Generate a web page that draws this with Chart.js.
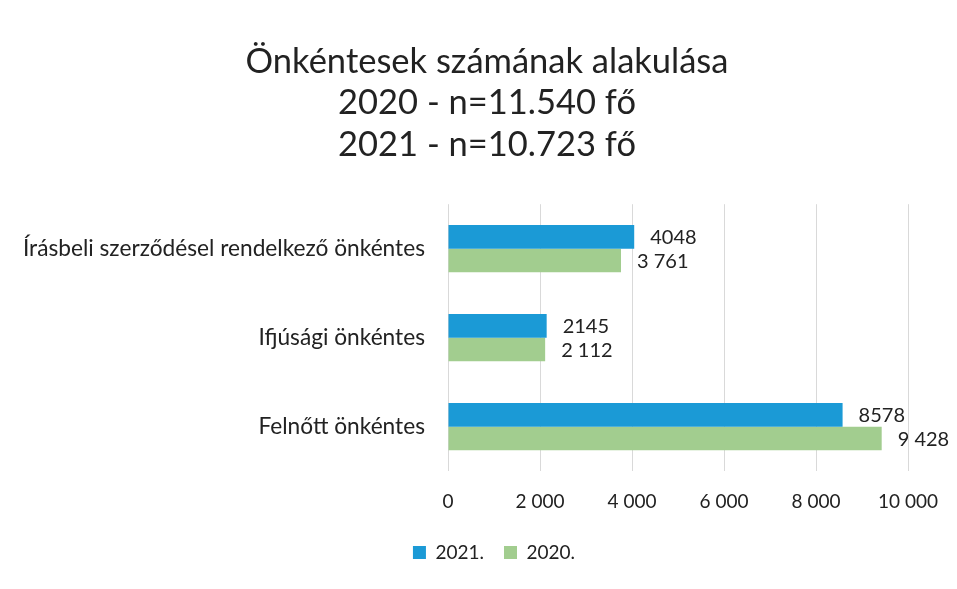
<!DOCTYPE html>
<html>
<head>
<meta charset="utf-8">
<script src="https://cdn.jsdelivr.net/npm/chart.js@4"></script>
<style>
  html, body { margin: 0; padding: 0; background: #fff; }
  #wrap { width: 957px; height: 589px; }
</style>
</head>
<body>
<div id="wrap"><canvas id="chart"></canvas></div>
<script>
const categories = ['Írásbeli szerződésel rendelkező önkéntes', 'Ifjúsági önkéntes', 'Felnőtt önkéntes'];
const values2021 = [4048, 2145, 8578];
const values2020 = [3761, 2112, 9428];
const titleLines = ['Önkéntesek számának alakulása', '2020 - n=11.540 fő', '2021 - n=10.723 fő'];

const spaced = v => String(v).replace(/\B(?=(\d{3})+(?!\d))/g, ' ');

// value labels at the end of each bar
const barLabels = {
  id: 'barLabels',
  afterDatasetsDraw(chart) {
    const ctx = chart.ctx;
    ctx.save();
    ctx.font = '20px Lato';
    ctx.fillStyle = '#222';
    ctx.textBaseline = 'middle';
    chart.data.datasets.forEach((ds, i) => {
      chart.getDatasetMeta(i).data.forEach((bar, j) => {
        const txt = ds.plainLabels ? String(ds.data[j]) : spaced(ds.data[j]);
        ctx.fillText(txt, bar.x + 16, bar.y + 1);
      });
    });
    ctx.restore();
  }
};

// title and legend sit a bit right of the canvas centre in the original
const shiftBoxes = {
  id: 'shiftBoxes',
  afterUpdate(chart) {
    chart.titleBlock.left += 33;
    chart.titleBlock.right += 33;
    chart.legend.left += 40;
    chart.legend.right += 40;
    chart.legend.top -= 9;
    chart.legend.bottom -= 9;
    chart.legend.adjustHitBoxes();
  }
};

new Chart(document.getElementById('chart'), {
  type: 'bar',
  data: {
    labels: categories,
    datasets: [
      { label: '2021.', data: values2021, backgroundColor: '#1b9ad6', plainLabels: true },
      { label: '2020.', data: values2020, backgroundColor: '#a2cd8f' }
    ]
  },
  plugins: [barLabels, shiftBoxes],
  options: {
    indexAxis: 'y',
    responsive: true,
    maintainAspectRatio: false,
    animation: false,
    layout: { padding: { top: 41, left: 0, right: 49, bottom: 8 } },
    datasets: { bar: { categoryPercentage: 0.53, barPercentage: 1 } },
    scales: {
      x: {
        min: 0, max: 10000,
        ticks: { stepSize: 2000, padding: 19, color: '#222', font: { family: 'Lato', size: 19 },
                 callback: v => spaced(v) },
        grid: { color: '#d9d9d9', drawTicks: false },
        border: { display: false }
      },
      y: {
        afterFit: s => { s.width = 448; },
        ticks: { padding: 15, color: '#222', font: { family: 'Lato', size: 22.7 } },
        grid: { display: false },
        border: { display: false }
      }
    },
    plugins: {
      title: {
        display: true,
        text: titleLines,
        color: '#222',
        font: { family: 'Lato', size: 34.5, weight: 'normal', lineHeight: 1.2 },
        padding: { top: 0, bottom: 39 }
      },
      legend: {
        position: 'bottom',
        labels: { color: '#222', font: { family: 'Lato', size: 19 }, boxWidth: 13, boxHeight: 13, padding: 20 }
      },
      tooltip: { enabled: false }
    }
  }
});
</script>
</body>
</html>
